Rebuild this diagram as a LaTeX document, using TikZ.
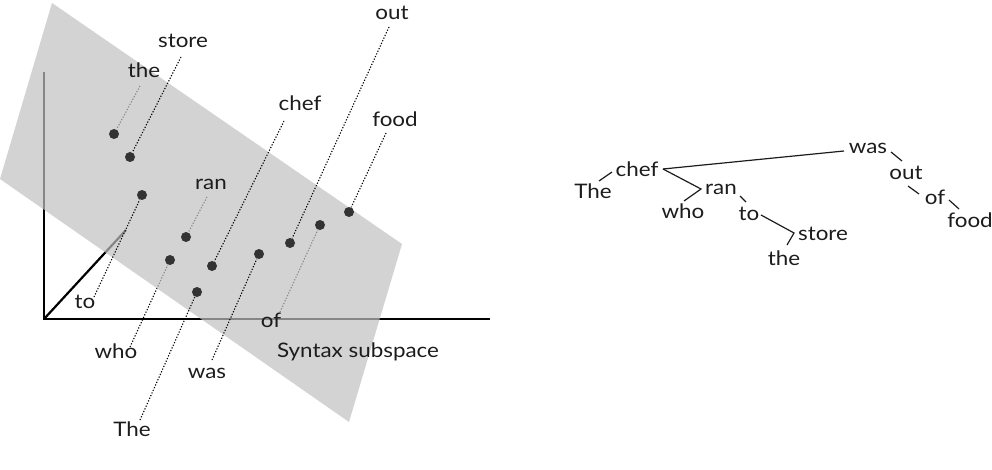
\documentclass[tikz,border=0pt]{standalone}
\usepackage{fontspec}
\setmainfont{Lato}[FakeStretch=1.12]
\definecolor{planegray}{RGB}{192,192,192}
\definecolor{dotcol}{RGB}{51,51,51}
\definecolor{txt}{RGB}{28,28,28}
\pgfdeclarelayer{back}
\pgfdeclarelayer{planelayer}
\pgfsetlayers{back,planelayer,main}
\tikzset{
  lbl/.style={inner sep=0pt, font=\fontsize{20}{24}\selectfont, text=txt},
  wdot/.style={circle, fill=dotcol, minimum size=10pt, inner sep=0pt},
  proj/.style={line width=1.1pt, dash pattern=on 1.2pt off 1.7pt, black},
  axisline/.style={line width=2.2pt, black},
  treeedge/.style={line width=1.2pt, draw=txt},
  planestyle/.style={fill=planegray, fill opacity=0.7},
}
\begin{document}
\begin{tikzpicture}[x=1pt,y=-1pt]
\useasboundingbox (0,0) rectangle (992,470);

% ---- word points
\node[wdot] (dThe)   at (197,292) {};
\node[wdot] (dChef)  at (212,266) {};
\node[wdot] (dWho)   at (170,260) {};
\node[wdot] (dRan)   at (186,237) {};
\node[wdot] (dTo)    at (142,195) {};
\node[wdot] (dthe)   at (114,134) {};
\node[wdot] (dStore) at (130,157) {};
\node[wdot] (dWas)   at (259,254) {};
\node[wdot] (dOut)   at (290,243) {};
\node[wdot] (dOf)    at (320,225) {};
\node[wdot] (dFood)  at (349,212) {};

% ---- labels (left)
\node[lbl] (lStore) at (183,41)  {store};
\node[lbl] (lthe)   at (144,70)  {the};
\node[lbl] (lRan)   at (211,184) {ran};
\node[lbl] (lChef)  at (300,103) {chef};
\node[lbl] (lOut)   at (392,13)  {out};
\node[lbl] (lFood)  at (395,119) {food};
\node[lbl] (lTo)    at (85,302)  {to};
\node[lbl] (lWho)   at (116,351) {who};
\node[lbl] (lWas)   at (207,373) {was};
\node[lbl] (lThe)   at (132,429) {The};
\node[lbl] (lOf)    at (271,320) {of};
\node[lbl] (lSyn)   at (358,352) {Syntax subspace};

% ---- axes
\coordinate (O) at (44,319);
\coordinate (Ytop) at (44,72);
\coordinate (Xend) at (490,319);
\coordinate (Zend) at (126,230);

\begin{pgfonlayer}{back}
  \draw[axisline] (Ytop) -- (O) -- (Xend);
  \draw[axisline] (O) -- (Zend);
  % projection lines behind the plane
  \draw[proj] ([shift={(-4,16)}]lthe.center) -- (dthe);
  \draw[proj] ([shift={(-4,13)}]lRan.center) -- (dRan);
  \draw[proj] ([shift={(14,-4)}]lWho.center) -- (dWho);
  \draw[proj] ([shift={(9,-8)}]lOf.center) -- (dOf);
\end{pgfonlayer}

\begin{pgfonlayer}{planelayer}
  \fill[planestyle] (52,3) -- (0,179) -- (349,422) -- (402,244) -- cycle;
\end{pgfonlayer}

% projection lines in front of the plane
\draw[proj] ([shift={(-2,16)}]lStore.center) -- (dStore);
\draw[proj] ([shift={(-16,18)}]lChef.center) -- (dChef);
\draw[proj] ([shift={(-3,14)}]lOut.center) -- (dOut);
\draw[proj] ([shift={(-9,14)}]lFood.center) -- (dFood);
\draw[proj] ([shift={(9,-5)}]lTo.center) -- (dTo);
\draw[proj] ([shift={(5,-13)}]lWas.center) -- (dWas);
\draw[proj] ([shift={(8,-9)}]lThe.center) -- (dThe);

% ---- dependency tree (right)
\node[lbl] (tThe)   at (593,191) {The};
\node[lbl] (tChef)  at (637,169) {chef};
\node[lbl] (tWho)   at (683,211) {who};
\node[lbl] (tRan)   at (721,189) {ran};
\node[lbl] (tTo)    at (749,214) {to};
\node[lbl] (tStore) at (823,234) {store};
\node[lbl] (tthe)   at (784,258) {the};
\node[lbl] (tWas)   at (868,148) {was};
\node[lbl] (tOut)   at (906,173) {out};
\node[lbl] (tOf)    at (935,197) {of};
\node[lbl] (tFood)  at (970,220) {food};

\draw[treeedge] ([shift={(6,-10)}]tThe.center) -- ([shift={(-25,3)}]tChef.center);
\draw[treeedge] ([shift={(26,0)}]tChef.center) -- ([shift={(-24,3)}]tWas.center);
\draw[treeedge] ([shift={(26,0)}]tChef.center) -- ([shift={(-20,0)}]tRan.center)
                -- ([shift={(1,-10)}]tWho.center);
\draw[treeedge] ([shift={(19,7)}]tRan.center) -- ([shift={(-3,-12)}]tTo.center);
\draw[treeedge] ([shift={(12,1)}]tTo.center) -- ([shift={(-29,-1)}]tStore.center)
                -- ([shift={(3,-13)}]tthe.center);
\draw[treeedge] ([shift={(23,4)}]tWas.center) -- ([shift={(-4,-12)}]tOut.center);
\draw[treeedge] ([shift={(2,13)}]tOut.center) -- ([shift={(-16,-3)}]tOf.center);
\draw[treeedge] ([shift={(14,3)}]tOf.center) -- ([shift={(-11,-11)}]tFood.center);
\end{tikzpicture}
\end{document}
